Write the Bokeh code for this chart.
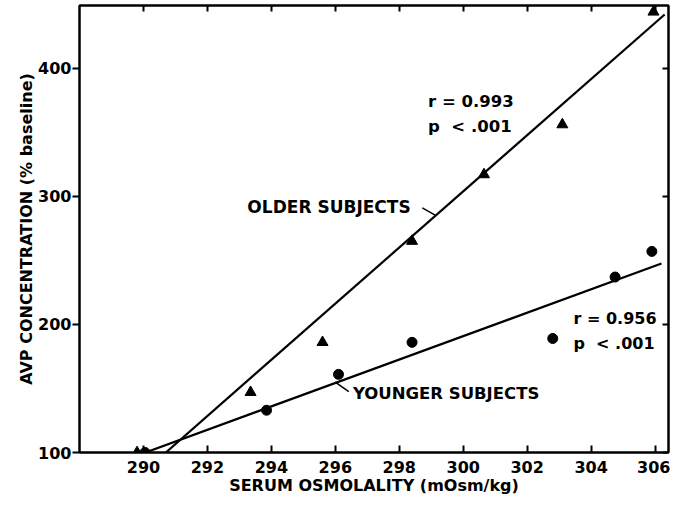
from bokeh.plotting import figure
from bokeh.models import Range1d, LinearAxis, FixedTicker, Label
from bokeh.embed import file_html
from bokeh.resources import INLINE

# Data
older_x = [289.8, 293.35, 295.6, 298.4, 300.65, 303.1, 305.95]
older_y = [100, 147, 186, 265, 317, 356, 444]
younger_x = [290.05, 293.85, 296.1, 298.4, 302.8, 304.75, 305.9]
younger_y = [100, 133, 161, 186, 189, 237, 257]
older_fit_x = [290.7, 306.3]
older_fit_y = [100, 442]
younger_fit_x = [289.9, 306.2]
younger_fit_y = [98.5, 247.5]
x_ticks = [290, 292, 294, 296, 298, 300, 302, 304, 306]
y_ticks = [100, 200, 300, 400]

FONT = "DejaVu Sans"
NB = "\u00a0"

p = figure(width=670, height=497, output_backend="svg", toolbar_location=None,
           x_range=Range1d(288.0, 306.42), y_range=Range1d(100, 449),
           min_border_left=79, min_border_right=2, min_border_top=5, min_border_bottom=0,
           x_axis_label="SERUM OSMOLALITY (mOsm/kg)",
           y_axis_label="AVP CONCENTRATION (% baseline)")
p.background_fill_color = "white"
p.border_fill_color = "white"
p.outline_line_color = "black"
p.outline_line_width = 2
p.grid.visible = False

for ax in p.xaxis + p.yaxis:
    ax.axis_line_width = 2
    ax.axis_line_color = "black"
    ax.major_tick_line_width = 2
    ax.minor_tick_line_color = None
    ax.major_label_text_font = FONT
    ax.major_label_text_font_style = "bold"
    ax.major_label_text_font_size = "16px"
    ax.major_label_text_color = "black"
    ax.axis_label_text_font = FONT
    ax.axis_label_text_font_style = "bold"
    ax.axis_label_text_font_size = "16px"
    ax.axis_label_text_color = "black"

p.xaxis.ticker = FixedTicker(ticks=x_ticks)
p.yaxis.ticker = FixedTicker(ticks=y_ticks)
p.xaxis.major_tick_in = 7
p.xaxis.major_tick_out = 0
p.xaxis.major_label_standoff = 8
p.xaxis.axis_label_standoff = 0
p.yaxis.major_tick_in = 0
p.yaxis.major_tick_out = 7
p.yaxis.major_label_standoff = 1
p.yaxis.axis_label_standoff = -1

top = LinearAxis(ticker=FixedTicker(ticks=x_ticks),
                 major_label_overrides={t: "" for t in x_ticks},
                 major_tick_in=6, major_tick_out=0, axis_line_width=2,
                 major_tick_line_width=2, minor_tick_line_color=None,
                 major_label_standoff=0)
right = LinearAxis(ticker=FixedTicker(ticks=y_ticks),
                   major_label_overrides={t: "" for t in y_ticks},
                   major_tick_in=6, major_tick_out=0, axis_line_width=2,
                   major_tick_line_width=2, minor_tick_line_color=None,
                   major_label_standoff=0)
p.add_layout(top, "above")
p.add_layout(right, "right")

# regression lines
p.line(older_fit_x, older_fit_y, line_color="black", line_width=2.2)
p.line(younger_fit_x, younger_fit_y, line_color="black", line_width=2.2)

# points
p.scatter(older_x, older_y, marker="triangle", size=11, fill_color="black", line_color="black")
p.scatter(younger_x, younger_y, marker="circle", size=10, fill_color="black", line_color="black")

# leader lines
p.segment(x0=[298.72, 296.0], y0=[291.0, 155.0], x1=[299.15, 296.42], y1=[285.0, 147.5],
          line_color="black", line_width=1.5)

def lab(x, y, t, size="17px"):
    p.add_layout(Label(x=x, y=y, text=t, text_font=FONT, text_font_style="bold",
                       text_font_size=size, text_color="black",
                       text_align="left", text_baseline="middle"))

lab(293.25, 291.5, "OLDER SUBJECTS")
lab(296.55, 146.0, "YOUNGER SUBJECTS", "16.5px")
lab(298.9, 374.0, "r = 0.993", "16.5px")
lab(298.9, 354.5, "p" + NB + NB + "< .001", "16.5px")
lab(303.45, 204.5, "r = 0.956", "16px")
lab(303.45, 185.0, "p" + NB + NB + "< .001", "16px")

open("out.html", "w").write(file_html(p, INLINE))
